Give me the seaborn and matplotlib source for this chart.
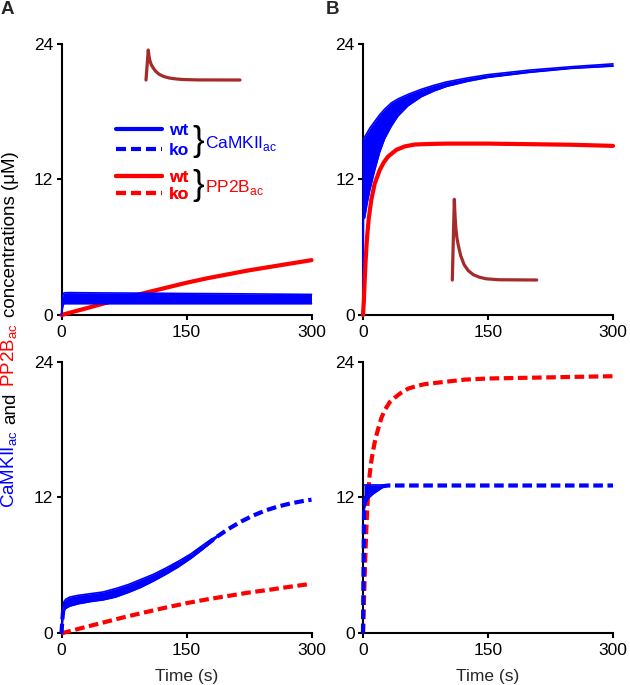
import matplotlib
matplotlib.use("Agg")
import matplotlib.pyplot as plt
import seaborn as sns
from matplotlib.lines import Line2D

# ---------------- data ----------------
time_ticks = [0, 150, 300]
time_tick_labels = ["0", "150", "300"]
conc_ticks = [0, 12, 24]
conc_tick_labels = ["0", "12", "24"]

# Panel A top (wt, weak stimulus): CaMKII oscillation envelope
a_wt_cam_t = [0, 1, 2, 3, 5, 10, 20, 50, 100, 150, 200, 250, 300]
a_wt_cam_lo = [0, 0.55, 0.9, 1.0, 1.0, 1.0, 1.0, 1.0, 1.0, 1.0, 1.0, 1.0, 1.0]
a_wt_cam_hi = [0, 1.55, 1.85, 1.95, 1.97, 1.98, 1.97, 1.95, 1.93, 1.9, 1.88, 1.85, 1.82]
a_wt_pp_t = [0, 25, 50, 75, 100, 125, 150, 175, 200, 225, 250, 275, 300]
a_wt_pp = [0, 0.5, 1.0, 1.48, 1.95, 2.4, 2.85, 3.25, 3.6, 3.95, 4.25, 4.55, 4.85]

# Panel A bottom (ko, weak stimulus)
a_ko_cam_t = [0, 1, 2, 3, 5, 10, 20, 35, 50, 65, 80, 95, 110, 125, 140, 155, 170, 185,
              200, 215, 230, 245, 260, 275, 290, 300]
a_ko_cam = [0, 1.2, 2.0, 2.4, 2.6, 2.8, 3.0, 3.15, 3.3, 3.57, 3.95, 4.4, 4.9, 5.47, 6.1, 6.8,
            7.62, 8.45, 9.2, 9.85, 10.4, 10.85, 11.2, 11.47, 11.68, 11.8]
a_ko_band_t = [0, 1, 2, 3, 5, 10, 20, 35, 50, 65, 80, 95, 110, 125, 140, 155, 170, 180, 188]
a_ko_band_lo = [0, 0.8, 1.6, 2.0, 2.2, 2.4, 2.6, 2.8, 2.95, 3.2, 3.6, 4.05, 4.6, 5.2, 5.85, 6.6, 7.45, 8.05, 8.6]
a_ko_band_hi = [0, 1.6, 2.4, 2.8, 3.0, 3.2, 3.35, 3.5, 3.65, 3.95, 4.3, 4.75, 5.2, 5.75, 6.35, 7.0, 7.8, 8.3, 8.65]
a_ko_pp_t = [0, 25, 50, 75, 100, 125, 150, 175, 200, 225, 250, 275, 300]
a_ko_pp = [0, 0.48, 0.95, 1.42, 1.85, 2.27, 2.66, 3.0, 3.3, 3.6, 3.85, 4.12, 4.37]

# Panel B top (wt, strong stimulus)
b_wt_cam_t = [0, 0.5, 2, 5, 8, 11, 14, 20, 26, 34, 42, 54, 70, 85, 100, 125, 150, 200, 250, 300]
b_wt_cam_lo = [0, 8.5, 8.6, 9.9, 11.0, 11.9, 12.8, 14.4, 15.6, 16.7, 17.6, 18.5, 19.3, 19.8, 20.2,
               20.65, 21.0, 21.45, 21.8, 22.0]
b_wt_cam_hi = [0, 15.6, 15.75, 16.1, 16.5, 16.8, 17.1, 17.7, 18.2, 18.75, 19.1, 19.5, 19.95, 20.3,
               20.6, 20.95, 21.25, 21.65, 21.95, 22.2]
b_wt_pp_t = [0, 1, 2, 3, 4, 5, 7, 10, 14, 20, 25, 30, 40, 50, 62, 80, 100, 150, 200, 250, 300]
b_wt_pp = [0, 1.2, 3.0, 4.6, 5.9, 7.0, 8.6, 10.2, 11.6, 12.8, 13.5, 14.0, 14.6, 14.9, 15.07, 15.12,
           15.15, 15.15, 15.1, 15.05, 14.95]

# Panel B bottom (ko, strong stimulus)
b_ko_cam_t = [0, 0.6, 1.2, 2, 3, 5, 8, 12, 16, 20, 25, 30, 50, 100, 150, 200, 250, 300]
b_ko_cam = [0, 5.5, 10.5, 11.6, 12.0, 12.3, 12.55, 12.75, 12.85, 12.95, 13.0, 13.05, 13.05, 13.05,
            13.05, 13.05, 13.05, 13.05]
b_ko_band_t = [1.2, 2, 3, 6, 12, 20, 26]
b_ko_band_lo = [10.8, 11.1, 11.4, 11.9, 12.3, 12.7, 13.0]
b_ko_band_hi = [13.1, 13.1, 13.1, 13.1, 13.1, 13.1, 13.05]
b_ko_pp_t = [0, 1, 2, 3, 4, 5, 6, 8, 10, 12, 15, 18, 22, 26, 32, 38, 45, 54, 65, 74, 98, 122, 150,
             188, 225, 260, 300]
b_ko_pp = [0, 2.5, 5.0, 7.2, 9.2, 10.8, 12.1, 14.0, 15.2, 16.1, 17.2, 18.0, 19.0, 19.7, 20.4, 20.8,
           21.2, 21.6, 21.85, 22.0, 22.2, 22.4, 22.5, 22.55, 22.6, 22.65, 22.7]

# Stimulus trace shown in the insets (relative units)
stim_t = [0, 2.4, 3.2, 4.2, 5.5, 7.3, 10, 14, 19, 25, 32, 40, 55, 100]
stim_v = [0, 1.0, 0.8, 0.64, 0.52, 0.42, 0.3, 0.19, 0.115, 0.065, 0.035, 0.015, 0.003, 0]

legend_labels = ["wt", "ko"]
group_labels = [r"CaMKII$_\mathregular{ac}$", r"PP2B$_\mathregular{ac}$"]
ylabel_parts = [(r"CaMKII$_\mathregular{ac}$", "blue"), ("and", "black"),
                (r"PP2B$_\mathregular{ac}$", "red"), ("concentrations (\u03bcM)", "black")]
xlabel = "Time (s)"
panel_letters = ["A", "B"]

# ---------------- style ----------------
BLUE = "#0000ff"
RED = "#ff0000"
BROWN = "#a52a2a"
DASH = (0, (2.3, 1.1))
FS = 12.5

sns.set_theme(style="ticks")
plt.rcParams['font.family'] = ['Liberation Sans', 'DejaVu Sans']
plt.rcParams['mathtext.fontset'] = 'custom'
plt.rcParams['mathtext.rm'] = 'Liberation Sans'
plt.rcParams['axes.edgecolor'] = 'black'
plt.rcParams['axes.linewidth'] = 1.5
plt.rcParams['xtick.color'] = 'black'
plt.rcParams['ytick.color'] = 'black'

W, H = 630, 685
fig = plt.figure(figsize=(W / 100, H / 100), dpi=100)


def fx(px):
    return px / W


def fy(py):
    return 1 - py / H


axes = {}
boxes = {
    "A_top": (61.5, 311.5, 43.5, 315),
    "B_top": (363, 613, 43.5, 315),
    "A_bot": (61.5, 311.5, 361.5, 633.3),
    "B_bot": (363, 613, 361.5, 633.3),
}
for k, (l, r, t, b) in boxes.items():
    ax = fig.add_axes([fx(l), fy(b), (r - l) / W, (b - t) / H])
    ax.set_xlim(0, 300)
    ax.set_ylim(0, 24)
    ax.set_xticks(time_ticks)
    ax.set_xticklabels(time_tick_labels)
    ax.set_yticks(conc_ticks)
    ax.set_yticklabels(conc_tick_labels)
    ax.tick_params(axis='both', labelsize=12.5, length=3.5, width=1.5, color='black')
    ax.tick_params(axis='x', pad=3.5)
    ax.tick_params(axis='y', pad=2.5)
    sns.despine(ax=ax)
    ax.set_facecolor('white')
    axes[k] = ax


def line(ax, t, v, color, dashed=False, lw=3):
    sns.lineplot(x=t, y=v, ax=ax, color=color, lw=lw,
                 linestyle=DASH if dashed else '-', estimator=None, sort=False,
                 clip_on=False, zorder=3)


def band(ax, t, lo, hi, color):
    ax.fill_between(t, lo, hi, color=color, lw=0, zorder=3, clip_on=False)
    line(ax, t, lo, color, lw=1.2)
    line(ax, t, hi, color, lw=1.2)


# A top
ax = axes["A_top"]
line(ax, a_wt_pp_t, a_wt_pp, RED)
band(ax, a_wt_cam_t, a_wt_cam_lo, a_wt_cam_hi, BLUE)

# A bottom
ax = axes["A_bot"]
line(ax, a_ko_pp_t, a_ko_pp, RED, dashed=True)
line(ax, a_ko_cam_t, a_ko_cam, BLUE, dashed=True)
band(ax, a_ko_band_t, a_ko_band_lo, a_ko_band_hi, BLUE)

# B top
ax = axes["B_top"]
band(ax, b_wt_cam_t, b_wt_cam_lo, b_wt_cam_hi, BLUE)
line(ax, b_wt_pp_t, b_wt_pp, RED)

# B bottom
ax = axes["B_bot"]
line(ax, b_ko_pp_t, b_ko_pp, RED, dashed=True)
line(ax, b_ko_cam_t, b_ko_cam, BLUE, dashed=True)
band(ax, b_ko_band_t, b_ko_band_lo, b_ko_band_hi, BLUE)

for k in ["A_bot", "B_bot"]:
    axes[k].set_xlabel(xlabel, fontsize=FS, labelpad=8)

# insets with the stimulus trace
for (l, r, t, b) in [(146, 240, 50, 80), (452.3, 536.7, 199.3, 280)]:
    ins = fig.add_axes([fx(l), fy(b), (r - l) / W, (b - t) / H])
    sns.lineplot(x=stim_t, y=stim_v, ax=ins, color=BROWN, lw=2.3, estimator=None,
                 sort=False, clip_on=False)
    ins.set_xlim(0, 100)
    ins.set_ylim(0, 1)
    ins.axis('off')

# legend
axA = axes["A_top"]
h_blue = [Line2D([], [], color=BLUE, lw=3), Line2D([], [], color=BLUE, lw=3, linestyle=(0, (2.4, 1.2)))]
h_red = [Line2D([], [], color=RED, lw=3), Line2D([], [], color=RED, lw=3, linestyle=(0, (2.4, 1.2)))]
leg1 = axA.legend(h_blue, legend_labels, loc='upper left', bbox_to_anchor=(fx(116), fy(123)),
                  bbox_transform=fig.transFigure, frameon=False,
                  prop={'weight': 'bold', 'size': 12.5}, labelcolor=BLUE, handlelength=2.65,
                  handletextpad=0.4, labelspacing=0.28, borderpad=0, borderaxespad=0)
axA.add_artist(leg1)
leg2 = axA.legend(h_red, legend_labels, loc='upper left', bbox_to_anchor=(fx(116), fy(169.5)),
                  bbox_transform=fig.transFigure, frameon=False,
                  prop={'weight': 'bold', 'size': 12.5}, labelcolor=RED, handlelength=2.65,
                  handletextpad=0.4, labelspacing=0.12, borderpad=0, borderaxespad=0)
axA.add_artist(leg2)

for yc in [141, 186]:
    fig.text(fx(192), fy(yc), "}", fontsize=25, va='center', ha='left', color='black')
fig.text(fx(205), fy(148), group_labels[0], fontsize=FS, color=BLUE, va='baseline', ha='left')
fig.text(fx(205), fy(192), group_labels[1], fontsize=FS, color=RED, va='baseline', ha='left')

# panel letters
fig.text(fx(1), fy(1), panel_letters[0], fontsize=13.5, fontweight='bold', va='top', ha='left')
fig.text(fx(326), fy(1), panel_letters[1], fontsize=13.5, fontweight='bold', va='top', ha='left')

# multi-coloured y label
fig.canvas.draw()
rend = fig.canvas.get_renderer()
ypos = H - 508
for txt, col in ylabel_parts:
    tt = fig.text(fx(15), ypos / H, txt, rotation=90, rotation_mode='anchor',
                  ha='left', va='baseline', color=col, fontsize=13.5)
    bb = tt.get_window_extent(rend)
    ypos += bb.height + 6

fig.savefig("out.png", dpi=100, facecolor='white')
